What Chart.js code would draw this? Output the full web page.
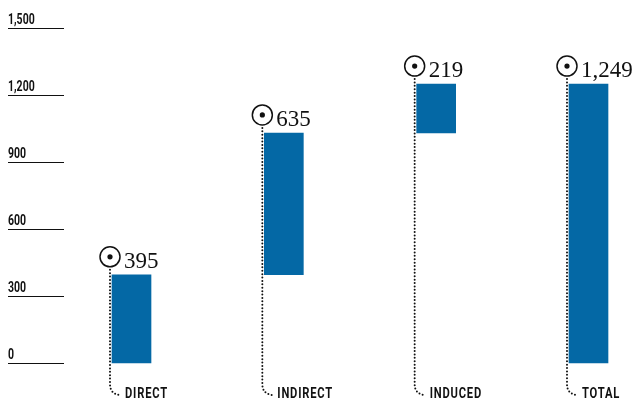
<!DOCTYPE html>
<html>
<head>
<meta charset="utf-8">
<script src="https://cdn.jsdelivr.net/npm/chart.js@4"></script>
<style>
  body { margin: 0; background: #fff; }
  #wrap { width: 638px; height: 403px; }
</style>
</head>
<body>
<div id="wrap"><canvas id="chart"></canvas></div>
<script>
const categories = ["DIRECT", "INDIRECT", "INDUCED", "TOTAL"];
const barStarts = [0, 395, 1030, 0];
const barEnds = [395, 1030, 1249, 1249];
const valueLabels = ["395", "635", "219", "1,249"];
const tickValues = [0, 300, 600, 900, 1200, 1500];
const tickLabels = ["0", "300", "600", "900", "1,200", "1,500"];

const blue = "#0468a5";

// condensed bold text: Roboto squeezed horizontally
function narrowText(ctx, text, x, y, size, squeeze, spacing) {
  ctx.save();
  ctx.translate(x, y);
  ctx.scale(squeeze, 1);
  ctx.font = "bold " + size + "px Roboto";
  ctx.letterSpacing = spacing + "px";
  ctx.textAlign = "left";
  ctx.fillText(text, 0, 0);
  ctx.restore();
}

// y axis: short lines with labels sitting on top
const yAxisPlugin = {
  id: "yAxisLines",
  afterDraw(chart) {
    const ctx = chart.ctx;
    const y = chart.scales.y;
    ctx.save();
    ctx.strokeStyle = "#111";
    ctx.lineWidth = 1.2;
    ctx.fillStyle = "#111";
    ctx.textBaseline = "alphabetic";
    tickValues.forEach((v, i) => {
      const py = Math.round(y.getPixelForValue(v)) + 0.5;
      ctx.beginPath();
      ctx.moveTo(8, py);
      ctx.lineTo(64, py);
      ctx.stroke();
      narrowText(ctx, tickLabels[i], 8, py - 5, 15, 0.7, 0);
    });
    ctx.restore();
  }
};

// markers: circle + value, dotted leader down to the category label
const markerPlugin = {
  id: "markers",
  afterDatasetsDraw(chart) {
    const ctx = chart.ctx;
    const meta = chart.getDatasetMeta(0);
    ctx.save();
    meta.data.forEach((bar, i) => {
      const top = Math.min(bar.y, bar.base);
      const lx = bar.x - bar.width / 2 - 2;
      const cy = top - 18;

      // dotted leader
      ctx.strokeStyle = "#111";
      ctx.lineWidth = 2;
      ctx.lineCap = "round";
      ctx.setLineDash([0, 3.4]);
      ctx.beginPath();
      ctx.moveTo(lx, cy + 13);
      ctx.lineTo(lx, 384);
      ctx.quadraticCurveTo(lx, 394, lx + 10, 395);
      ctx.stroke();
      ctx.setLineDash([]);

      // circle with dot
      ctx.strokeStyle = "#111";
      ctx.lineWidth = 1.5;
      ctx.beginPath();
      ctx.arc(lx, cy, 10, 0, Math.PI * 2);
      ctx.stroke();
      ctx.fillStyle = "#111";
      ctx.beginPath();
      ctx.arc(lx, cy, 2.6, 0, Math.PI * 2);
      ctx.fill();

      // value
      ctx.font = "23px 'Liberation Serif'";
      ctx.textAlign = "left";
      ctx.textBaseline = "alphabetic";
      ctx.fillText(valueLabels[i], lx + 14, top - 7);

      // category
      ctx.textBaseline = "middle";
      narrowText(ctx, categories[i], lx + 15, 394, 14, 0.8, 1);
    });
    ctx.restore();
  }
};

new Chart(document.getElementById("chart"), {
  type: "bar",
  data: {
    labels: categories,
    datasets: [{
      data: barStarts.map((s, i) => [s, barEnds[i]]),
      backgroundColor: blue,
      borderWidth: 0,
      barThickness: 39,
      clip: false
    }]
  },
  options: {
    responsive: true,
    maintainAspectRatio: false,
    animation: false,
    layout: { padding: { left: 131.5, right: 49.5, top: 28, bottom: 40 } },
    plugins: { legend: { display: false }, tooltip: { enabled: false } },
    scales: {
      x: { display: false, offset: false },
      y: { display: false, min: 0, max: 1500 }
    }
  },
  plugins: [yAxisPlugin, markerPlugin]
});
</script>
</body>
</html>
